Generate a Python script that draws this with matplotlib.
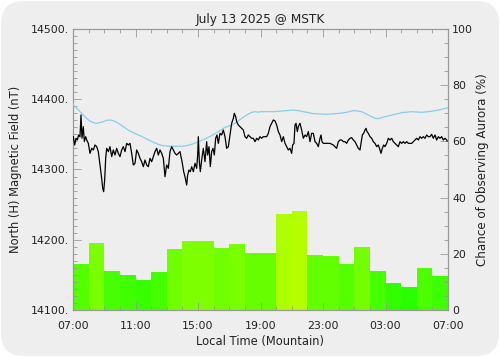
import matplotlib
matplotlib.use("Agg")
import matplotlib.pyplot as plt
from matplotlib.patches import FancyBboxPatch
from matplotlib.ticker import MultipleLocator, FixedLocator
import numpy as np

# hours since 07:00 local time, North (H) component in nT
field_hours = [
    0.02, 0.107, 0.192, 0.277, 0.363, 0.448, 0.512, 0.576, 0.661, 0.725, 0.811, 0.875, 0.981,
    1.088, 1.195, 1.301, 1.408, 1.515, 1.621, 1.728, 1.835, 1.899, 1.963, 2.027, 2.091, 2.155,
    2.261, 2.368, 2.475, 2.581, 2.688, 2.795, 2.901, 3.008, 3.115, 3.221, 3.328, 3.435, 3.541,
    3.648, 3.755, 3.861, 3.968, 4.075, 4.181, 4.288, 4.395, 4.501, 4.608, 4.715, 4.821, 4.928,
    5.035, 5.141, 5.248, 5.355, 5.461, 5.568, 5.675, 5.781, 5.888, 5.995, 6.101, 6.208,
    6.315, 6.421, 6.528, 6.635, 6.741, 6.848, 6.912, 6.997, 7.083, 7.168, 7.275, 7.339, 7.424,
    7.509, 7.595, 7.701, 7.808, 7.915, 7.979, 8.021, 8.085, 8.149, 8.234, 8.341, 8.448, 8.554,
    8.618, 8.704, 8.789, 8.874, 8.960, 9.045, 9.130, 9.215, 9.301, 9.408, 9.514, 9.621, 9.728,
    9.834, 9.941, 10.048, 10.154, 10.261, 10.325, 10.410, 10.474, 10.581, 10.688, 10.794,
    10.901, 11.008, 11.114, 11.221, 11.328, 11.434, 11.541, 11.648, 11.754, 11.861, 11.968,
    12.074, 12.181, 12.288,
    12.395, 12.501, 12.608, 12.715, 12.821, 12.928, 13.035, 13.141, 13.248, 13.355, 13.461,
    13.568, 13.675, 13.781, 13.888, 13.995, 14.058, 14.144, 14.208, 14.272, 14.357, 14.421,
    14.528, 14.634, 14.741, 14.848, 14.954, 15.061, 15.168, 15.274, 15.381, 15.488, 15.594,
    15.701, 15.808, 15.872, 15.936, 16.021, 16.234, 16.448, 16.661, 16.874, 16.981, 17.088,
    17.194, 17.301, 17.408, 17.514, 17.621, 17.728, 17.834, 17.941, 18.048, 18.154, 18.261,
    18.368,
    18.432, 18.517, 18.603, 18.688, 18.752, 18.816, 18.901, 19.008, 19.115, 19.221, 19.328,
    19.435, 19.541, 19.648, 19.712, 19.797, 19.883, 19.968, 20.075, 20.181, 20.288, 20.395,
    20.501, 20.608, 20.715, 20.821, 20.928, 21.035, 21.141, 21.248, 21.355, 21.461, 21.568,
    21.675, 21.781, 21.888, 21.995, 22.101, 22.208, 22.315, 22.421, 22.528, 22.635, 22.741,
    22.848, 22.954, 23.061, 23.168, 23.275, 23.381, 23.488, 23.595, 23.701, 23.808, 23.915,
    23.95,
]
field_nt = [
    14346.7, 14334.9, 14344.4, 14342.0, 14349.1, 14346.7, 14377.6, 14344.4, 14361.0, 14339.6,
    14346.7, 14342.0, 14337.2, 14323.0, 14330.1, 14327.8, 14334.9, 14332.5, 14325.4, 14306.4,
    14287.4, 14273.2, 14268.4, 14285.1, 14315.9, 14330.1, 14325.4, 14332.5, 14318.3, 14327.8,
    14320.6, 14330.1, 14323.0, 14318.3, 14327.8, 14332.5, 14325.4, 14337.2, 14334.9, 14337.2,
    14323.0, 14306.4, 14308.8, 14327.8, 14323.0, 14315.9, 14311.1, 14304.0, 14313.5, 14306.4,
    14304.0, 14315.9, 14311.1, 14318.3, 14325.4, 14330.1, 14320.6, 14327.8, 14323.0, 14315.9,
    14289.8, 14306.4, 14301.7, 14325.4,
    14332.5, 14327.8, 14323.0, 14320.6, 14323.0, 14325.4, 14318.3, 14308.8, 14296.9, 14289.8,
    14277.9, 14292.2, 14299.3, 14296.9, 14304.0, 14296.9, 14308.8, 14301.7, 14320.6, 14346.7,
    14311.1, 14296.9, 14313.5, 14330.1, 14311.1, 14339.6, 14320.6, 14332.5, 14304.0, 14325.4,
    14330.1, 14320.6, 14344.4, 14349.1, 14337.2, 14351.5, 14349.1, 14356.2, 14346.7, 14330.1,
    14332.5, 14349.1, 14365.7, 14372.8, 14380.0, 14375.2, 14368.1, 14363.3, 14361.0, 14358.6,
    14356.2, 14346.7, 14344.4, 14349.1, 14346.7, 14344.4, 14344.4, 14339.6, 14344.4, 14342.0,
    14346.7, 14344.4, 14346.7, 14346.7,
    14346.7, 14351.5, 14361.0, 14365.7, 14370.5, 14369.1, 14363.3, 14353.9, 14349.1, 14339.6,
    14346.7, 14337.2, 14332.5, 14327.8, 14330.1, 14323.0, 14334.9, 14337.2, 14363.3, 14365.7,
    14353.9, 14361.0, 14365.7, 14356.2, 14344.4, 14349.1, 14346.7, 14353.9, 14339.6, 14351.5,
    14351.5, 14339.6, 14337.2, 14332.5, 14344.4, 14349.1, 14339.6, 14337.2, 14337.2, 14337.2,
    14334.9, 14330.1, 14339.6, 14342.0, 14342.0, 14339.6, 14339.6, 14337.2, 14342.0, 14344.4,
    14345.3, 14342.0, 14339.6, 14334.9, 14330.1, 14327.8,
    14337.2, 14349.1, 14351.5, 14356.2, 14358.6, 14353.9, 14351.5, 14346.7, 14344.4, 14339.6,
    14337.2, 14332.5, 14334.9, 14327.8, 14323.0, 14330.1, 14334.9, 14332.5, 14337.2, 14344.4,
    14342.0, 14344.4, 14339.6, 14337.2, 14334.9, 14332.5, 14339.6, 14337.2, 14339.6, 14337.2,
    14339.6, 14337.2, 14337.2, 14337.2, 14339.6, 14342.0, 14344.4, 14342.0, 14346.7, 14344.4,
    14346.7, 14344.4, 14349.1, 14346.7, 14346.7, 14350.0, 14344.4, 14349.1, 14342.0, 14346.7,
    14344.4, 14346.7, 14342.0, 14344.4, 14342.0, 14340.5,
]

# cyan reference curve (nT)
base_hours = [
    0.0, 0.02, 0.235, 0.448, 0.661, 0.875, 1.088, 1.301, 1.515, 1.728, 1.941, 2.155, 2.368,
    2.581, 2.795, 3.008, 3.221, 3.435, 3.648, 3.861, 4.075, 4.288, 4.501, 4.715, 4.928, 5.141,
    5.355, 5.568, 5.781, 5.995, 6.315, 6.741, 7.168, 7.595, 8.021, 8.448, 8.874, 9.301, 9.728,
    10.154, 10.474, 10.794, 11.114, 11.434, 11.648, 11.861, 11.968, 12.821, 13.675, 14.101,
    14.528, 14.954, 15.381, 16.234, 17.088, 17.514, 17.941, 18.048, 18.475, 18.901, 19.328,
    19.541, 19.968, 20.608, 21.035, 21.675, 22.315, 22.741, 23.168, 23.595, 24.0,
]
base_nt = [
    14394.2, 14391.8, 14387.1, 14382.3, 14377.6, 14372.8, 14369.1, 14366.7, 14365.7, 14366.7,
    14368.1, 14370.0, 14370.5, 14369.5, 14367.1, 14364.3, 14361.0, 14357.6, 14354.8, 14352.4,
    14350.1, 14348.2, 14345.8, 14343.4, 14341.1, 14338.7, 14336.8, 14334.9, 14333.9, 14333.5,
    14333.0, 14333.0, 14333.5, 14335.8, 14339.6, 14343.4, 14348.2, 14353.9, 14360.0, 14363.3,
    14367.1, 14372.8, 14377.6, 14381.4, 14382.3, 14381.4, 14382.3, 14382.3, 14383.7, 14384.7,
    14383.3, 14381.4, 14379.5, 14378.5, 14380.0, 14381.4, 14383.7, 14383.7, 14382.3, 14377.6,
    14372.8, 14372.4, 14375.2, 14378.5, 14380.9, 14382.3, 14381.4, 14382.3, 14383.7, 14385.6,
    14388.0,
]

# hourly chance of observing aurora (%)
aurora_pct = [16.4, 23.7, 13.9, 12.3, 10.7, 13.5, 21.7, 24.6, 24.7, 22.1, 23.5, 20.2,
              20.2, 34.0, 35.1, 19.7, 19.1, 16.4, 22.5, 13.8, 9.7, 8.3, 14.9, 12.1]

x_ticks = [0, 4, 8, 12, 16, 20, 24]
x_labels = ["07:00", "11:00", "15:00", "19:00", "23:00", "03:00", "07:00"]

bg = "#eeeeee"
grey = "#999999"
txt = "#222222"
plt.rcParams["font.family"] = ["DejaVu Sans"]
plt.rcParams["font.size"] = 7.9

fig = plt.figure(figsize=(5.0, 3.57), dpi=100, facecolor="white")
fig.patches.append(FancyBboxPatch((0.002, 0.003), 0.996, 0.994,
                                  boxstyle="round,pad=0,rounding_size=0.045",
                                  transform=fig.transFigure, facecolor=bg,
                                  edgecolor="none", mutation_aspect=500 / 357,
                                  zorder=-10))

ax = fig.add_axes([0.146, 0.1317, 0.75, 0.7871])
ax2 = ax.twinx()

colors = [(min(1.0, p / 50.0), 1.0, 0.0) for p in aurora_pct]
ax2.bar(np.arange(24) + 0.5, aurora_pct, width=1.0, color=colors,
        edgecolor="none", zorder=1)
ax2.set_ylim(0, 100)
ax2.yaxis.set_major_locator(MultipleLocator(20))
ax2.yaxis.set_minor_locator(MultipleLocator(5))

ax.plot(base_hours, base_nt, color="#87ceeb", lw=0.9, zorder=3)
ax.plot(field_hours, field_nt, color="black", lw=0.9, zorder=4)
ax.set_zorder(ax2.get_zorder() + 1)
ax.patch.set_visible(False)
ax2.patch.set_facecolor(bg)

ax.set_xlim(0, 24)
ax.set_ylim(14100, 14500)
ax.xaxis.set_major_locator(FixedLocator(x_ticks))
ax.set_xticklabels(x_labels)
ax.xaxis.set_minor_locator(MultipleLocator(1))
ax.yaxis.set_major_locator(MultipleLocator(100))
ax.yaxis.set_minor_locator(MultipleLocator(10))
ax.set_yticklabels([f"{int(v)}." for v in ax.get_yticks()])

for a in (ax, ax2):
    for s in a.spines.values():
        s.set_color(grey)
        s.set_linewidth(0.8)
ax.tick_params(axis="x", which="both", direction="in", top=True, colors=grey,
               labelcolor=txt, pad=8)
ax.tick_params(axis="x", which="major", length=6, width=0.6)
ax.tick_params(axis="x", which="minor", length=3, width=0.6)
ax.tick_params(axis="y", which="both", direction="in", colors=grey, labelcolor=txt,
               right=False, pad=3)
ax.tick_params(axis="y", which="major", length=6, width=0.6)
ax.tick_params(axis="y", which="minor", length=3, width=0.6)
ax2.tick_params(axis="y", which="both", direction="in", colors=grey, labelcolor=txt,
                pad=3)
ax2.tick_params(axis="y", which="major", length=6, width=0.6)
ax2.tick_params(axis="y", which="minor", length=3, width=0.6)

ax.set_title("July 13 2025 @ MSTK", fontsize=8.7, color=txt, pad=4)
ax.set_xlabel("Local Time (Mountain)", fontsize=8.3, color=txt, labelpad=3)
ax.set_ylabel("North (H) Magnetic Field (nT)", fontsize=8.3, color=txt, labelpad=6)
ax2.set_ylabel("Chance of Observing Aurora (%)", fontsize=8.6, color=txt, labelpad=2)

fig.savefig("out.png", dpi=100, facecolor="white")
